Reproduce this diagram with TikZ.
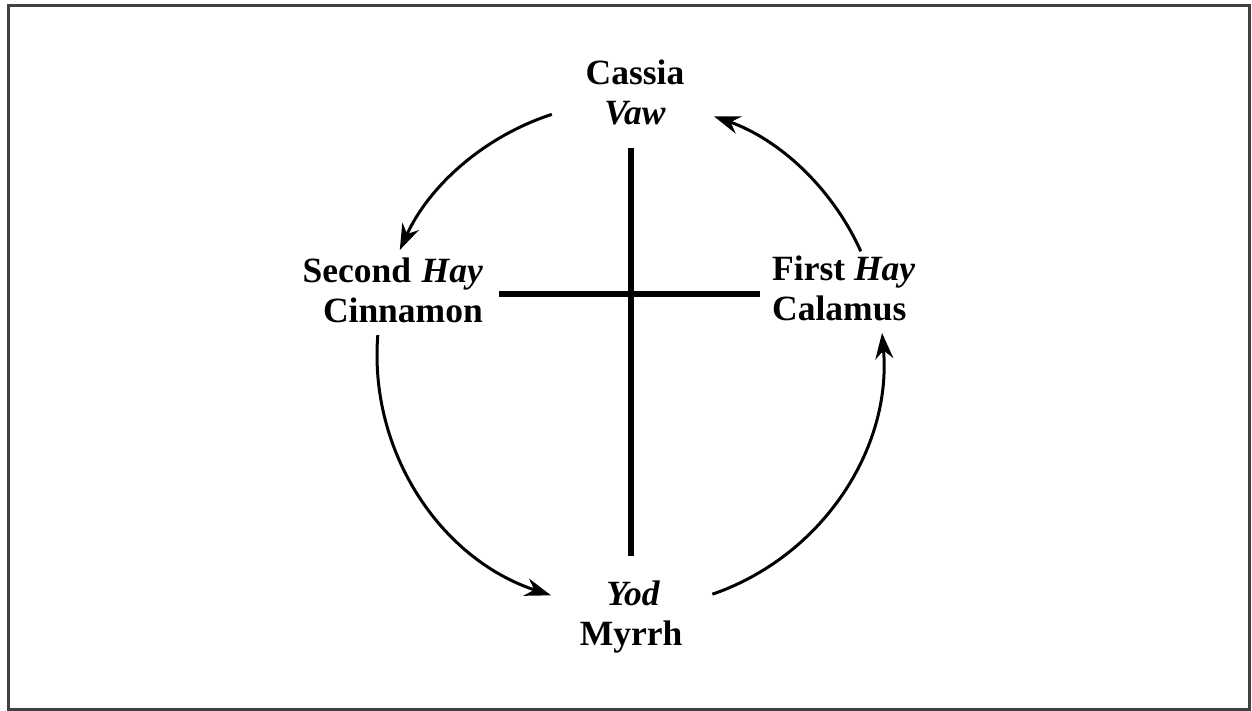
\documentclass[tikz,border=0pt]{standalone}
\usepackage{fontspec}
\setmainfont{Liberation Serif}
\usetikzlibrary{arrows.meta,calc}
\tikzset{
  lbl/.style={inner sep=0pt,font=\fontsize{35.5}{40}\selectfont\bfseries},
  crossline/.style={line width=6pt},
  cyclearrow/.style={line width=3pt,-{Stealth[length=26pt,width=18pt]}},
  frame/.style={line width=3pt,draw=black!75}
}
\begin{document}
\begin{tikzpicture}[x=1pt,y=1pt]
\useasboundingbox (0,0) rectangle (1252,711);
\draw[frame] (8,1.5) rectangle (1249.5,705.5);
% labels
\node[lbl,anchor=base] (cassia) at (635,626) {Cassia};
\node[lbl,anchor=base] (vaw) at (635,586) {\itshape Vaw};
\node[lbl,anchor=base east] (second) at (483,428) {Second\hspace{0.3em}\itshape Hay};
\node[lbl,anchor=base east] (cinnamon) at (483,388) {Cinnamon};
\node[lbl,anchor=base west] (first) at (772,430) {First \itshape Hay};
\node[lbl,anchor=base west] (calamus) at (772,390) {Calamus};
\node[lbl,anchor=base] (yod) at (633,105) {\itshape Yod};
\node[lbl,anchor=base] (myrrh) at (631,65) {Myrrh};
% cross
\coordinate (vt) at (630.5,563);
\coordinate (vb) at (630.5,155);
\coordinate (hl) at (499,417);
\coordinate (hr) at (760,417);
\draw[crossline] (vt) -- (vb);
\draw[crossline] (hl) -- (hr);
% circle arrows
\coordinate (c) at (630,356);
\coordinate (s1) at ($(c)+(108:253)$);
\coordinate (s2) at ($(c)+(175.5:253)$);
\coordinate (s3) at ($(c)+(-71:253)$);
\coordinate (s4) at ($(c)+(24.2:253)$);
\draw[cyclearrow] (s1) arc[start angle=108,end angle=155.5,radius=253];
\draw[cyclearrow] (s2) arc[start angle=175.5,end angle=251.8,radius=253];
\draw[cyclearrow] (s3) arc[start angle=-71,end angle=5,radius=253];
\draw[cyclearrow] (s4) arc[start angle=24.2,end angle=70.6,radius=253];
\end{tikzpicture}
\end{document}
